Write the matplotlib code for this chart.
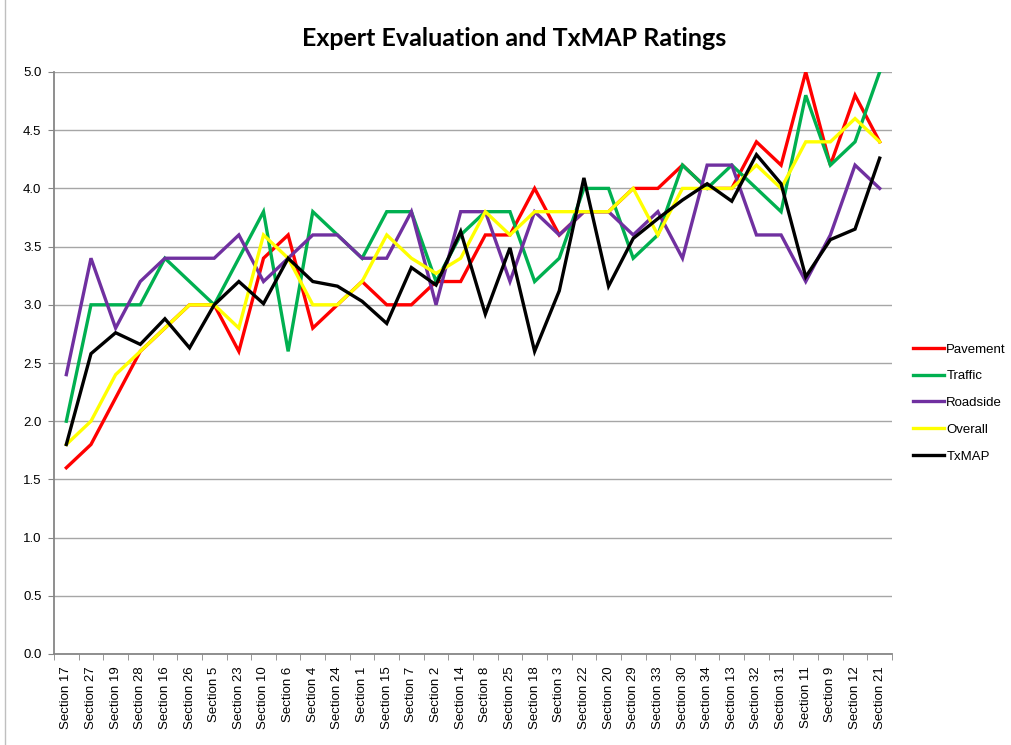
import matplotlib
matplotlib.use('Agg')
import matplotlib.pyplot as plt
from matplotlib.lines import Line2D

sections = ['Section 17', 'Section 27', 'Section 19', 'Section 28', 'Section 16',
            'Section 26', 'Section 5', 'Section 23', 'Section 10', 'Section 6',
            'Section 4', 'Section 24', 'Section 1', 'Section 15', 'Section 7',
            'Section 2', 'Section 14', 'Section 8', 'Section 25', 'Section 18',
            'Section 3', 'Section 22', 'Section 20', 'Section 29', 'Section 33',
            'Section 30', 'Section 34', 'Section 13', 'Section 32', 'Section 31',
            'Section 11', 'Section 9', 'Section 12', 'Section 21']

pavement = [1.6, 1.8, 2.2, 2.6, 2.8, 3.0, 3.0, 2.6, 3.4, 3.6, 2.8, 3.0, 3.2, 3.0,
            3.0, 3.2, 3.2, 3.6, 3.6, 4.0, 3.6, 3.8, 3.8, 4.0, 4.0, 4.2, 4.0, 4.0,
            4.4, 4.2, 5.0, 4.2, 4.8, 4.4]
traffic = [2.0, 3.0, 3.0, 3.0, 3.4, 3.2, 3.0, 3.4, 3.8, 2.6, 3.8, 3.6, 3.4, 3.8,
           3.8, 3.2, 3.6, 3.8, 3.8, 3.2, 3.4, 4.0, 4.0, 3.4, 3.6, 4.2, 4.0, 4.2,
           4.0, 3.8, 4.8, 4.2, 4.4, 5.0]
roadside = [2.4, 3.4, 2.8, 3.2, 3.4, 3.4, 3.4, 3.6, 3.2, 3.4, 3.6, 3.6, 3.4, 3.4,
            3.8, 3.0, 3.8, 3.8, 3.2, 3.8, 3.6, 3.8, 3.8, 3.6, 3.8, 3.4, 4.2, 4.2,
            3.6, 3.6, 3.2, 3.6, 4.2, 4.0]
overall = [1.8, 2.0, 2.4, 2.6, 2.8, 3.0, 3.0, 2.8, 3.6, 3.4, 3.0, 3.0, 3.2, 3.6,
           3.4, 3.27, 3.4, 3.8, 3.6, 3.8, 3.8, 3.8, 3.8, 4.0, 3.6, 4.0, 4.0, 4.0,
           4.2, 4.0, 4.4, 4.4, 4.6, 4.4]
txmap = [1.8, 2.58, 2.76, 2.66, 2.88, 2.63, 3.0, 3.2, 3.01, 3.4, 3.2, 3.16, 3.03,
         2.84, 3.32, 3.17, 3.63, 2.92, 3.49, 2.6, 3.12, 4.09, 3.16, 3.57, 3.74,
         3.9, 4.04, 3.89, 4.29, 4.04, 3.24, 3.56, 3.65, 4.26]

series = [('Pavement', pavement, '#FF0000'),
          ('Traffic', traffic, '#00B050'),
          ('Roadside', roadside, '#7030A0'),
          ('Overall', overall, '#FFFF00'),
          ('TxMAP', txmap, '#000000')]

W, H = 1012, 745
fig = plt.figure(figsize=(W / 100, H / 100), dpi=100)
ax = fig.add_axes([54 / W, 1 - 654 / H, (892 - 54) / W, (654 - 72) / H])

x = list(range(len(sections)))
handles = []
for name, vals, col in series:
    ax.plot(x, vals, color=col, lw=2.4, solid_joinstyle='miter', zorder=3)
    handles.append(Line2D([], [], color=col, lw=2.4, label=name))

ax.set_xlim(-0.5, len(sections) - 0.5)
ax.set_ylim(0, 5.0)
ax.set_yticks([i * 0.5 for i in range(11)])
ax.set_yticklabels([f'{i * 0.5:.1f}' for i in range(11)], fontsize=9.5,
                   family='Liberation Sans')
ax.yaxis.grid(True, color='#A6A6A6', lw=1.0)
ax.set_axisbelow(True)

ax.set_xticks(x)
ax.set_xticklabels(sections, rotation=90, fontsize=9.5, family='Liberation Sans')
ax.tick_params(axis='x', which='major', length=0, pad=9)
ax.set_xticks([i + 0.5 for i in range(-1, len(sections))], minor=True)
ax.tick_params(axis='x', which='minor', length=4, color='#868686')
ax.tick_params(axis='y', length=4, color='#868686', pad=5)

for s in ('top', 'right'):
    ax.spines[s].set_visible(False)
for s in ('left', 'bottom'):
    ax.spines[s].set_color('#868686')
    ax.spines[s].set_linewidth(1.3)

fig.text(514 / W, 1 - 38 / H, 'Expert Evaluation and TxMAP Ratings',
         ha='center', va='center', fontsize=18, fontweight='bold', family='Lato')

fig.legend(handles=handles, loc='upper left', bbox_to_anchor=(908 / W, 1 - 338 / H),
           frameon=False, handlelength=2.3, handletextpad=0.2,
           labelspacing=1.1, borderaxespad=0,
           prop={'family': 'Liberation Sans', 'size': 9.5})

fig.add_artist(Line2D([5 / W, 5 / W], [0, 1], color='#BFBFBF', lw=1))

fig.savefig('out.png', dpi=100, facecolor='white')
